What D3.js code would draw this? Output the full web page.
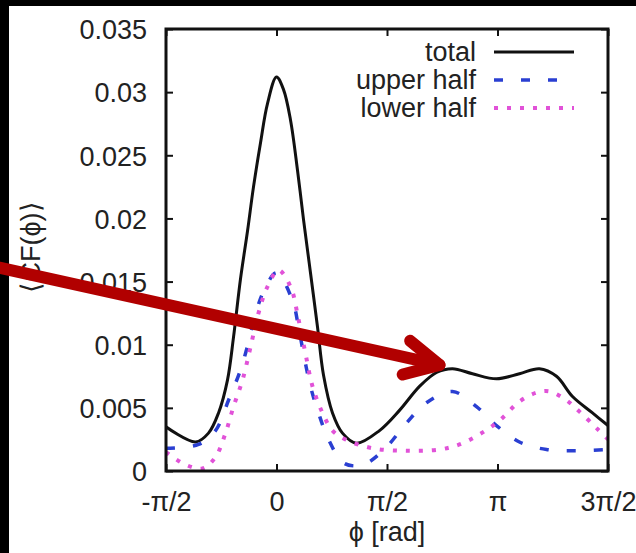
<!DOCTYPE html>
<html>
<head>
<meta charset="utf-8">
<script src="https://cdn.jsdelivr.net/npm/d3@7/dist/d3.min.js"></script>
<style>
  html, body { margin: 0; padding: 0; background: #fff; }
  svg { display: block; }
  text { font-family: "Liberation Sans", Arial, Helvetica, sans-serif; fill: #222; }
</style>
</head>
<body>
<svg id="chart" width="636" height="553"></svg>
<script>
// ⟨CF(ϕ)⟩ as a function of ϕ, total and split into upper / lower halves
const totalPhi = [-1.571, -1.151, -0.967, -0.824, -0.697, -0.611, -0.512, -0.412, -0.327, -0.227, -0.128, 0.0,
  0.100, 0.199, 0.299, 0.384, 0.483, 0.583, 0.668, 0.796, 0.938, 1.137, 1.464, 1.748, 2.033, 2.274, 2.502,
  2.786, 3.127, 3.454, 3.738, 3.980, 4.208, 4.492, 4.712];
const totalVal = [0.0035, 0.0023, 0.0030, 0.0046, 0.0072, 0.0106, 0.0152, 0.0190, 0.0225, 0.0260, 0.0291, 0.0312,
  0.0302, 0.0278, 0.0238, 0.0199, 0.0157, 0.0114, 0.0076, 0.0046, 0.0030, 0.0022, 0.0032, 0.0048, 0.0067, 0.0078, 0.0081,
  0.0077, 0.0073, 0.0077, 0.0081, 0.0075, 0.0059, 0.0046, 0.0036];

const upperPhi = [-1.571, -1.109, -0.867, -0.682, -0.512, -0.412, -0.299, -0.185, 0.0, 0.227, 0.313, 0.384,
  0.483, 0.597, 0.739, 0.938, 1.109, 1.279, 1.564, 1.848, 2.132, 2.502, 2.843, 3.127, 3.454, 3.838, 4.265, 4.712];
const upperVal = [0.0018, 0.0021, 0.0032, 0.0056, 0.0080, 0.0099, 0.0124, 0.0142, 0.0157, 0.0135, 0.0114, 0.0093,
  0.0067, 0.0046, 0.0025, 0.0007, 0.0004, 0.0006, 0.0019, 0.0038, 0.0054, 0.0063, 0.0051, 0.0036, 0.0023, 0.0017, 0.0016, 0.0017];

const lowerPhi = [-1.571, -1.294, -1.052, -0.867, -0.725, -0.611, -0.483, -0.370, -0.256, -0.128, 0.028, 0.199,
  0.313, 0.412, 0.512, 0.654, 0.796, 0.981, 1.365, 1.848, 2.317, 2.601, 2.886, 3.170, 3.454, 3.696, 3.881, 4.122,
  4.307, 4.549, 4.712];
const lowerVal = [0.0015, 0.0005, 0.0002, 0.0011, 0.0030, 0.0051, 0.0072, 0.0098, 0.0125, 0.0146, 0.0159, 0.0146,
  0.0120, 0.0093, 0.0067, 0.0046, 0.0032, 0.0025, 0.0018, 0.0016, 0.0017, 0.0021, 0.0029, 0.0040, 0.0055, 0.0062, 0.0063, 0.0056,
  0.0047, 0.0034, 0.0025];

const seriesNames = ["total", "upper half", "lower half"];
const yTicks = [0, 0.005, 0.01, 0.015, 0.02, 0.025, 0.03, 0.035];
const yTickLabels = ["0", "0.005", "0.01", "0.015", "0.02", "0.025", "0.03", "0.035"];
const xTicks = [-Math.PI / 2, 0, Math.PI / 2, Math.PI, 3 * Math.PI / 2];
const xTickLabels = ["-π/2", "0", "π/2", "π", "3π/2"];

// annotation arrow, in data units (tail lies left of the frame)
const arrowTail = [-3.94, 0.0161];
const arrowTip = [2.317, 0.0084];

const svg = d3.select("#chart");
const W = 636, H = 553;
const m = { left: 166, right: 608, top: 29, bottom: 471 };

const x = d3.scaleLinear().domain([-Math.PI / 2, 3 * Math.PI / 2]).range([m.left, m.right]);
const y = d3.scaleLinear().domain([0, 0.035]).range([m.bottom, m.top]);

svg.append("rect").attr("width", W).attr("height", H).attr("fill", "#fff");
svg.append("rect").attr("x", 0).attr("y", 0).attr("width", W).attr("height", 6).attr("fill", "#000");
svg.append("rect").attr("x", 0).attr("y", 0).attr("width", 9).attr("height", H).attr("fill", "#000");

svg.append("clipPath").attr("id", "plotclip")
  .append("rect").attr("x", m.left).attr("y", m.top)
  .attr("width", m.right - m.left).attr("height", m.bottom - m.top);

const styles = [
  { color: "#111", dash: null, width: 3 },
  { color: "#2a3fd2", dash: "9,18", width: 3.5 },
  { color: "#e152d8", dash: "4,9", width: 4 }
];
const series = [
  d3.zip(totalPhi, totalVal),
  d3.zip(upperPhi, upperVal),
  d3.zip(lowerPhi, lowerVal)
];

const line = d3.line()
  .x(d => x(d[0])).y(d => y(d[1]))
  .curve(d3.curveCatmullRom.alpha(0.5));

const plot = svg.append("g").attr("clip-path", "url(#plotclip)");
series.forEach((s, i) => {
  plot.append("path")
    .datum(s)
    .attr("d", line)
    .attr("fill", "none")
    .attr("stroke", styles[i].color)
    .attr("stroke-width", styles[i].width)
    .attr("stroke-dasharray", styles[i].dash)
    .attr("stroke-linejoin", "round");
});

// axes with inward ticks on all four sides
const fontSize = 27;
const axB = svg.append("g").attr("transform", `translate(0,${m.bottom})`)
  .call(d3.axisBottom(x).tickValues(xTicks).tickSize(-7).tickPadding(21)
    .tickFormat((d, i) => xTickLabels[i]));
const axT = svg.append("g").attr("transform", `translate(0,${m.top})`)
  .call(d3.axisTop(x).tickValues(xTicks).tickSize(-7).tickFormat(""));
const axL = svg.append("g").attr("transform", `translate(${m.left},0)`)
  .call(d3.axisLeft(y).tickValues(yTicks).tickSize(-7).tickPadding(19)
    .tickFormat((d, i) => yTickLabels[i]));
const axR = svg.append("g").attr("transform", `translate(${m.right},0)`)
  .call(d3.axisRight(y).tickValues(yTicks).tickSize(-7).tickFormat(""));

[axB, axT, axL, axR].forEach(g => {
  g.select(".domain").remove();
  g.selectAll(".tick line").attr("stroke", "#111").attr("stroke-width", 2);
  g.selectAll("text").attr("font-size", fontSize).attr("fill", "#222")
    .style("font-family", '"Liberation Sans", Arial, Helvetica, sans-serif');
});
axL.selectAll("text").attr("dy", "0.36em");

svg.append("rect")
  .attr("x", m.left).attr("y", m.top)
  .attr("width", m.right - m.left).attr("height", m.bottom - m.top)
  .attr("fill", "none").attr("stroke", "#111").attr("stroke-width", 3);

// axis titles
svg.append("text")
  .attr("x", 387).attr("y", 541)
  .attr("text-anchor", "middle").attr("font-size", fontSize)
  .text("ϕ [rad]");

svg.append("text")
  .attr("transform", "translate(30,247) rotate(-90)")
  .attr("text-anchor", "middle").attr("dy", "0.36em").attr("font-size", fontSize)
  .text("⟨CF(ϕ)⟩");

// legend
const legend = svg.append("g");
const legendY = [52, 80, 108];
seriesNames.forEach((name, i) => {
  legend.append("text")
    .attr("x", 476).attr("y", legendY[i]).attr("dy", "0.35em")
    .attr("text-anchor", "end").attr("font-size", fontSize)
    .text(name);
  legend.append("line")
    .attr("x1", 494).attr("x2", 574)
    .attr("y1", legendY[i]).attr("y2", legendY[i])
    .attr("stroke", styles[i].color)
    .attr("stroke-width", styles[i].width)
    .attr("stroke-dasharray", styles[i].dash);
});

// red annotation arrow with an open head
const tx = x(arrowTip[0]), ty = y(arrowTip[1]);
const sx = x(arrowTail[0]), sy = y(arrowTail[1]);
const ang = Math.atan2(ty - sy, tx - sx);
const wing = 38, spread = 27 * Math.PI / 180;
const arrow = svg.append("g")
  .attr("fill", "none").attr("stroke", "#b10000")
  .attr("stroke-width", 12).attr("stroke-linecap", "round").attr("stroke-linejoin", "round");
arrow.append("line").attr("x1", sx).attr("y1", sy).attr("x2", tx).attr("y2", ty);
arrow.append("path").attr("d", d3.line()([
  [tx - wing * Math.cos(ang - spread), ty - wing * Math.sin(ang - spread)],
  [tx, ty],
  [tx - wing * Math.cos(ang + spread), ty - wing * Math.sin(ang + spread)]
]));
</script>
</body>
</html>
